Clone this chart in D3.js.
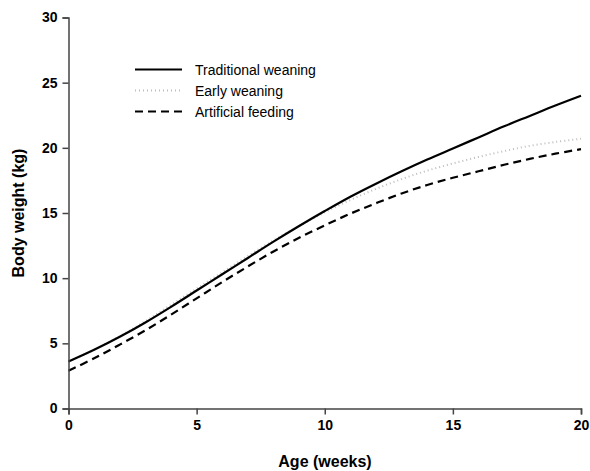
<!DOCTYPE html>
<html><head><meta charset="utf-8">
<script src="https://cdn.jsdelivr.net/npm/d3@7"></script>
<style>body{margin:0;background:#fff}svg{display:block}text{font-family:"Liberation Sans",Arial,sans-serif}</style>
</head><body><svg id="c" width="590" height="471"></svg>
<script>
const weeks = [0,1,2,3,4,5,6,7,8,9,10,11,12,13,14,15,16,17,18,19,20];
const traditional = [3.6,4.5,5.5,6.6,7.8,9.05,10.3,11.55,12.8,14.0,15.15,16.25,17.25,18.2,19.1,19.95,20.8,21.65,22.45,23.25,24.0];
const early = [3.6,4.5,5.55,6.7,7.95,9.2,10.45,11.7,12.9,14.0,15.05,16.0,16.85,17.6,18.25,18.8,19.3,19.75,20.15,20.45,20.7];
const artificial = [2.9,3.85,4.9,6.0,7.2,8.45,9.7,10.9,12.05,13.1,14.05,14.95,15.75,16.5,17.15,17.7,18.2,18.7,19.15,19.55,19.9];
const xTicks = [0,5,10,15,20];
const yTicks = [0,5,10,15,20,25,30];
const seriesNames = ["Traditional weaning","Early weaning","Artificial feeding"];

const svg = d3.select("#c");
const x = d3.scaleLinear().domain([0,20]).range([68.5,581]);
const y = d3.scaleLinear().domain([0,30]).range([408.5,17.5]);

const styles = [
  {stroke:"#000", width:2.2, dash:null},
  {stroke:"#bdbdbd", width:2, dash:"1,3"},
  {stroke:"#000", width:2.2, dash:"8,5"}
];
const data = [traditional, early, artificial];

const line = d3.line().x((d,i)=>x(weeks[i])).y(d=>y(d)).curve(d3.curveCatmullRom.alpha(0.5));
[1,2,0].forEach(k=>{
  svg.append("path").datum(data[k]).attr("d",line).attr("fill","none")
    .attr("stroke",styles[k].stroke).attr("stroke-width",styles[k].width)
    .attr("stroke-dasharray",styles[k].dash);
});

const xa = svg.append("g").attr("transform","translate(0,408.5)")
  .call(d3.axisBottom(x).tickValues(xTicks).tickSize(6).tickPadding(6).tickFormat(d3.format("d")));
const ya = svg.append("g").attr("transform","translate(68.5,0)")
  .call(d3.axisLeft(y).tickValues(yTicks).tickSize(6).tickPadding(5).tickFormat(d3.format("d")));
[xa,ya].forEach(a=>{
  a.select(".domain").attr("stroke","#444").attr("stroke-width",1.5);
  a.selectAll(".tick line").attr("stroke","#444").attr("stroke-width",1.5);
  a.selectAll("text").attr("font-size",14).attr("font-weight","bold").attr("fill","#000")
    .style("font-family","'Liberation Sans',Arial,sans-serif");
});

svg.append("text").attr("x",325).attr("y",467).attr("text-anchor","middle")
  .attr("font-size",16).attr("font-weight","bold").text("Age (weeks)");
svg.append("text").attr("transform","translate(24,213) rotate(-90)").attr("text-anchor","middle")
  .attr("font-size",16).attr("font-weight","bold").text("Body weight (kg)");

const lg = svg.append("g");
seriesNames.forEach((n,i)=>{
  const yy = 69.5 + i*21;
  lg.append("line").attr("x1",135).attr("x2",182).attr("y1",yy).attr("y2",yy)
    .attr("stroke",styles[i].stroke).attr("stroke-width",styles[i].width)
    .attr("stroke-dasharray",styles[i].dash);
  lg.append("text").attr("x",195).attr("y",yy+5).attr("font-size",14).text(n);
});
</script></body></html>
